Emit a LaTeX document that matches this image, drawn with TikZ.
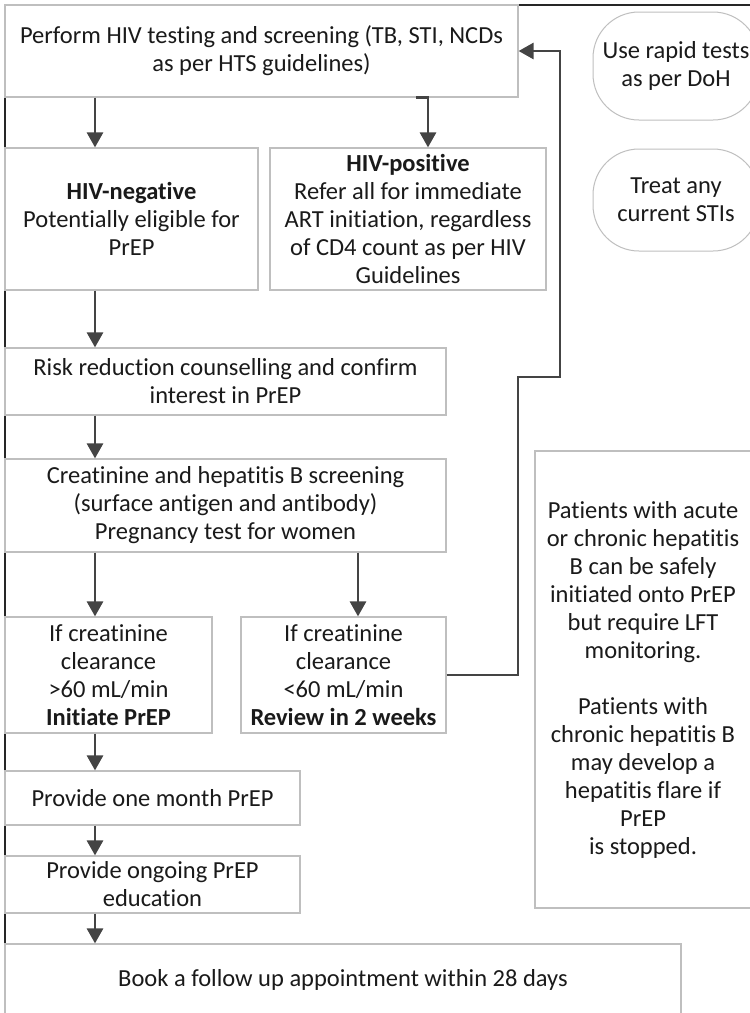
\documentclass[tikz,border=0pt]{standalone}
\usepackage{fontspec}
\setmainfont{Carlito}[Ligatures=NoCommon]
\usetikzlibrary{arrows.meta}
\definecolor{boxgray}{HTML}{BFBFBF}
\definecolor{arrgray}{HTML}{444444}
\definecolor{txt}{HTML}{1A1A1A}
\tikzset{
  fbox/.style={draw=boxgray, line width=1.2pt, fill=white, align=center, inner sep=0pt,
    text=txt, font=\fontsize{24.5}{28}\selectfont},
  rbox/.style={fbox, rounded corners=46pt, line width=1pt},
  arr/.style={draw=arrgray, line width=2.8pt, -{Triangle[length=15pt,width=16pt]}},
  frameline/.style={draw=black!85, line width=1.5pt}
}
\begin{document}
\begin{tikzpicture}[x=1pt,y=-1pt]
\useasboundingbox (0,0) rectangle (750,1013);
\fill[white] (0,0) rectangle (750,1013);
% outer frame lines
\coordinate (fa) at (5,1015);
\coordinate (fb) at (5,5);
\coordinate (fc) at (752,5);
\draw[frameline] (fa) -- (fb) -- (fc);
% column coordinates
\coordinate (colA) at (95,0);
\coordinate (colB) at (416,0);
\coordinate (colC) at (428,0);
\coordinate (colD) at (358,0);
% nodes
\node[fbox, minimum width=513pt, minimum height=92pt] (top) at (261.5,51)
  {Perform HIV testing and screening (TB, STI, NCDs\\as per HTS guidelines)};
\node[fbox, minimum width=253pt, minimum height=142pt] (neg) at (131.5,219)
  {\textbf{HIV-negative}\\Potentially eligible for\\PrEP};
\node[fbox, minimum width=276pt, minimum height=142pt] (pos) at (408,219)
  {\textbf{HIV-positive}\\Refer all for immediate\\ART initiation, regardless\\of CD4 count as per HIV\\Guidelines};
\node[rbox, minimum width=166pt, minimum height=108pt] (rapid) at (676,66)
  {Use rapid tests\\as per DoH};
\node[rbox, minimum width=166pt, minimum height=102pt] (treat) at (676,200)
  {Treat any\\current STIs};
\node[fbox, minimum width=441pt, minimum height=67pt] (risk) at (225.5,381.5)
  {Risk reduction counselling and confirm\\interest in PrEP};
\node[fbox, minimum width=441pt, minimum height=93pt] (creat) at (225.5,505.5)
  {Creatinine and hepatitis B screening\\(surface antigen and antibody)\\Pregnancy test for women};
\node[fbox, minimum width=207pt, minimum height=116pt] (lc) at (108.5,675)
  {If creatinine\\clearance\\>60 mL/min\\\textbf{Initiate PrEP}};
\node[fbox, minimum width=205pt, minimum height=116pt] (rc) at (343.5,675)
  {If creatinine\\clearance\\<60 mL/min\\\textbf{Review in 2 weeks}};
\node[fbox, minimum width=216pt, minimum height=457pt] (hep) at (643,679.5)
  {Patients with acute\\or chronic hepatitis\\B can be safely\\initiated onto PrEP\\but require LFT\\monitoring.\\[28pt]Patients with\\chronic hepatitis B\\may develop a\\hepatitis flare if\\PrEP\\is stopped.};
\node[fbox, minimum width=295pt, minimum height=54pt] (one) at (152.5,798)
  {Provide one month PrEP};
\node[fbox, minimum width=295pt, minimum height=57pt] (ongo) at (152.5,884.5)
  {Provide ongoing PrEP\\education};
\node[fbox, minimum width=676pt, minimum height=72pt] (book) at (343,980)
  {Book a follow up appointment within 28 days};
% connectors
\draw[arr] (top.south -| colA) -- (neg.north -| colA);
\draw[arr] (top.south -| colB) -- (top.south -| colC) -- (pos.north -| colC);
\draw[arr] (neg.south -| colA) -- (risk.north -| colA);
\draw[arr] (risk.south -| colA) -- (creat.north -| colA);
\draw[arr] (creat.south -| colA) -- (lc.north -| colA);
\draw[arr] (creat.south -| colD) -- (rc.north -| colD);
\draw[arr] (lc.south -| colA) -- (one.north -| colA);
\draw[arr] (one.south -| colA) -- (ongo.north -| colA);
\draw[arr] (ongo.south -| colA) -- (book.north -| colA);
\coordinate (j1) at (518,377);
\coordinate (j2) at (560,377);
\draw[arr] (rc.east) -| (j1) -- (j2) |- (top.east);
\end{tikzpicture}
\end{document}
